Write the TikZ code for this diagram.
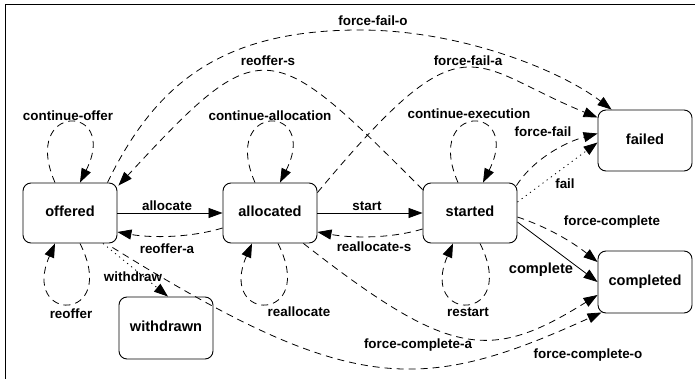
\documentclass[tikz,border=0pt]{standalone}
\usepackage{fontspec}
\setmainfont{Liberation Sans}
\usetikzlibrary{arrows.meta}
\begin{document}
\begin{tikzpicture}[x=1pt,y=-1pt,
  state/.style={draw, rounded corners=8pt, minimum width=94pt, minimum height=60pt,
    inner sep=0pt, line width=0.9pt, text height=0.72em, text depth=0pt,
    font=\fontsize{14.6}{17}\selectfont\bfseries},
  lbl/.style={inner sep=0pt, text height=0.72em, text depth=0pt,
    font=\fontsize{13.4}{16}\selectfont\bfseries},
  biglbl/.style={lbl, font=\fontsize{14.6}{17}\selectfont\bfseries},
  tr/.style={line width=0.8pt, -{Triangle[length=14pt,width=10pt]}},
  dsh/.style={tr, dash pattern=on 7pt off 5pt},
  dot/.style={tr, dash pattern=on 1.2pt off 4pt},
]
\useasboundingbox (0,0) rectangle (695,379);
\draw[line width=1pt] (695,4.5) -- (5,4.5) -- (5,379);

% states
\node[state] (o) at (70,213) {offered};
\node[state] (a) at (270,213) {allocated};
\node[state] (s) at (470,213) {started};
\node[state, minimum height=61pt] (f) at (645,140.5) {failed};
\node[state, minimum height=62pt] (c) at (645,282) {completed};
\node[state, minimum height=62pt] (w) at (166,328) {withdrawn};

% straight transitions
\draw[tr] (o.east) -- (a.west);
\draw[tr] (a.east) -- (s.west);
\draw[tr] ([yshift=-9pt]s.east) -- (c.west);

% back transitions
\draw[dsh] ([yshift=-15pt]a.west) .. controls +(-33,10) and +(33,6) .. ([yshift=-19pt]o.east);
\draw[dsh] ([yshift=-16pt]s.west) .. controls +(-33,10) and +(33,6) .. ([yshift=-19pt]a.east);

% loops above
\draw[dsh] ([xshift=-15pt]o.north) .. controls +(-35,-80) and +(40,-80) .. ([xshift=10pt]o.north);
\draw[dsh] ([xshift=-15pt]a.north) .. controls +(-35,-80) and +(40,-80) .. ([xshift=10pt]a.north);
\draw[dsh] ([xshift=-12pt]s.north) .. controls +(-35,-80) and +(40,-80) .. ([xshift=13pt]s.north);
% loops below
\draw[dsh] ([xshift=10pt]o.south) .. controls +(40,80) and +(-35,80) .. ([xshift=-15pt]o.south);
\draw[dsh] ([xshift=8pt]a.south) .. controls +(40,80) and +(-35,80) .. ([xshift=-18pt]a.south);
\draw[dsh] ([xshift=10pt]s.south) .. controls +(40,80) and +(-35,80) .. ([xshift=-17pt]s.south);

% withdraw / fail
\draw[dot] ([xshift=33pt]o.south) -- ([xshift=2pt]w.north);
\draw[dot] ([yshift=11pt]s.east) -- ([yshift=-2pt]f.west);

% force transitions
\draw[dsh] ([xshift=-1pt,yshift=-3pt]s.north east) .. controls +(18,-28) and +(-30,8) .. ([yshift=7pt]f.west);
\draw[dsh] ([yshift=-4pt]s.east) .. controls +(30,10) and +(-25,-20) .. ([yshift=20pt]c.west);
\draw[dsh] ([xshift=-14pt]a.south east) .. controls (450,358) and (490,362) .. ([yshift=-13pt]c.west);
\draw[dsh] ([xshift=-5pt,yshift=-4pt]o.south east) .. controls (350,395) and (420,395) .. ([xshift=4pt,yshift=1pt]c.south west);
\draw[dsh] ([yshift=-10pt]a.north east) .. controls (467,13) and (468,65) .. ([yshift=23pt]f.west);
\draw[dsh] ([xshift=-10pt]o.north east) .. controls (155,85) and (220,30) .. (360,30)
  .. controls (460,30) and (560,70) .. ([xshift=14pt]f.north west);
\draw[dsh] ([yshift=-7pt]s.north west) .. controls (269,36) and (262,30) .. ([xshift=1pt,yshift=-3pt]o.north east);

% labels
\node[lbl] (l1) at (373,22) {force-fail-o};
\node[lbl] (l2) at (268,62) {reoffer-s};
\node[lbl] (l3) at (468,62) {force-fail-a};
\node[lbl] (l4) at (68,117) {continue-offer};
\node[lbl] (l5) at (270,117) {continue-allocation};
\node[lbl] (l6) at (469,115) {continue-execution};
\node[lbl] (l7) at (543,133) {force-fail};
\node[lbl] (l8) at (565,185) {fail};
\node[lbl] (l9) at (167,207) {allocate};
\node[lbl] (l10) at (367,207) {start};
\node[lbl] (l11) at (167,250) {reoffer-a};
\node[lbl] (l12) at (374,248) {reallocate-s};
\node[lbl] (l13) at (612,222) {force-complete};
\node[biglbl] (l14) at (541,270) {complete};
\node[lbl] (l15) at (133,278) {withdraw};
\node[lbl] (l16) at (71,315) {reoffer};
\node[lbl] (l17) at (299,313) {reallocate};
\node[lbl] (l18) at (468,313) {restart};
\node[lbl] (l19) at (418,345) {force-complete-a};
\node[lbl] (l20) at (588,355) {force-complete-o};
\end{tikzpicture}
\end{document}
